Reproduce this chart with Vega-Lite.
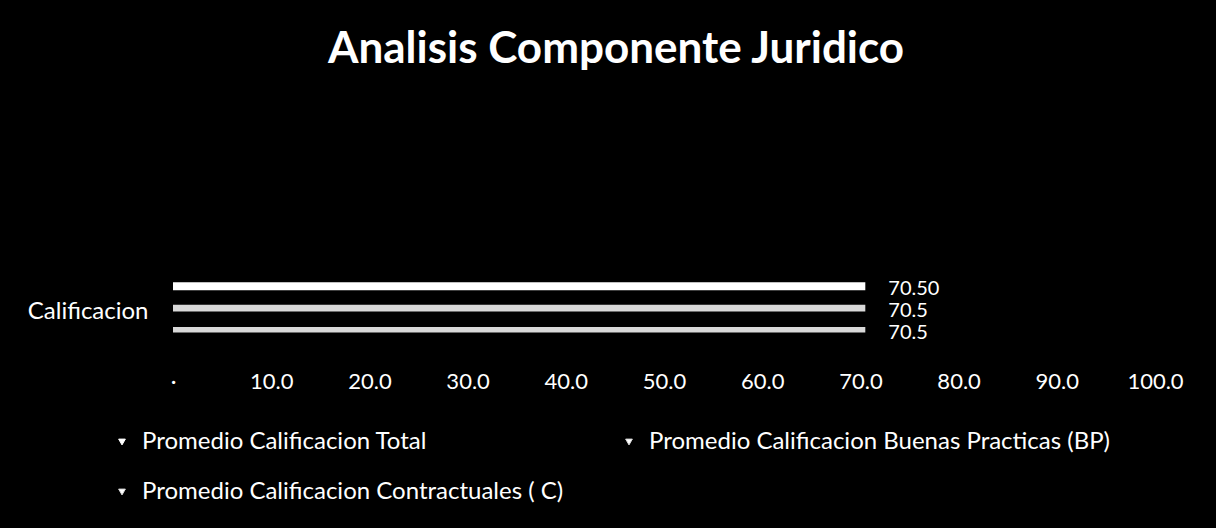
{
  "$schema": "https://vega.github.io/schema/vega-lite/v6.json",
  "autosize": {"type": "none"},
  "width": 982,
  "height": 76,
  "padding": {"left": 173, "top": 270, "right": 61, "bottom": 182},
  "background": "#000000",
  "config": {
    "view": {"stroke": null},
    "font": "Lato"
  },
  "title": {
    "text": "Analisis Componente Juridico",
    "font": "Lato",
    "fontSize": 44,
    "fontWeight": "bold",
    "color": "#ffffff",
    "anchor": "middle",
    "dx": -48,
    "offset": 198
  },
  "data": {
    "values": [
      {"cat": "Calificacion", "serie": "Promedio Calificacion Total", "valor": 70.5, "label": "70.50"},
      {"cat": "Calificacion", "serie": "Promedio Calificacion Buenas Practicas  (BP)", "valor": 70.5, "label": "70.5"},
      {"cat": "Calificacion", "serie": "Promedio Calificacion Contractuales ( C)", "valor": 70.5, "label": "70.5"}
    ]
  },
  "encoding": {
    "y": {
      "field": "serie",
      "type": "nominal",
      "sort": ["Promedio Calificacion Total", "Promedio Calificacion Buenas Practicas  (BP)", "Promedio Calificacion Contractuales ( C)"],
      "scale": {"type": "point", "padding": 0.75},
      "axis": {
        "title": null,
        "domain": false,
        "ticks": false,
        "labelExpr": "datum.index == 0.5 ? 'Calificacion' : ''",
        "labelColor": "#ffffff",
        "labelFontSize": 24,
        "labelFont": "Lato",
        "labelPadding": 25,
        "labelOffset": 3
      }
    },
    "x": {
      "field": "valor",
      "type": "quantitative",
      "scale": {"domain": [0, 100], "nice": false},
      "axis": {
        "title": null,
        "values": [0, 10, 20, 30, 40, 50, 60, 70, 80, 90, 100],
        "labelExpr": "datum.value == 0 ? '·' : format(datum.value, '.1f')",
        "domain": false,
        "ticks": false,
        "grid": false,
        "labelColor": "#ffffff",
        "labelFontSize": 22,
        "labelFont": "Lato",
        "labelPadding": 25,
        "labelFlush": false
      }
    }
  },
  "layer": [
    {
      "mark": {"type": "rule"},
      "encoding": {
        "x2": {"datum": 0},
        "color": {
          "field": "serie",
          "type": "nominal",
          "sort": ["Promedio Calificacion Total", "Promedio Calificacion Buenas Practicas  (BP)", "Promedio Calificacion Contractuales ( C)"],
          "scale": {"range": ["#ffffff", "#d8d8d8", "#d8d8d8"]},
          "legend": {
            "title": null,
            "orient": "none",
            "direction": "horizontal",
            "legendX": -63,
            "legendY": 160,
            "columns": 2,
            "columnPadding": 53,
            "rowPadding": 26,
            "symbolType": "triangle-down",
            "symbolSize": 45,
            "symbolFillColor": "#ffffff",
            "symbolStrokeColor": "#ffffff",
            "symbolStrokeWidth": 1,
            "labelColor": "#ffffff",
            "labelFontSize": 24,
            "labelFont": "Lato",
            "labelLimit": 700,
            "labelOffset": 8
          }
        },
        "strokeWidth": {
          "field": "serie",
          "type": "nominal",
          "sort": ["Promedio Calificacion Total", "Promedio Calificacion Buenas Practicas  (BP)", "Promedio Calificacion Contractuales ( C)"],
          "scale": {"range": [8, 5.5, 5.5]},
          "legend": null
        }
      }
    },
    {
      "mark": {"type": "text", "align": "left", "baseline": "middle", "dx": 23, "dy": 3, "fontSize": 20, "font": "Lato", "color": "#ffffff"},
      "encoding": {
        "text": {"field": "label"}
      }
    }
  ]
}
